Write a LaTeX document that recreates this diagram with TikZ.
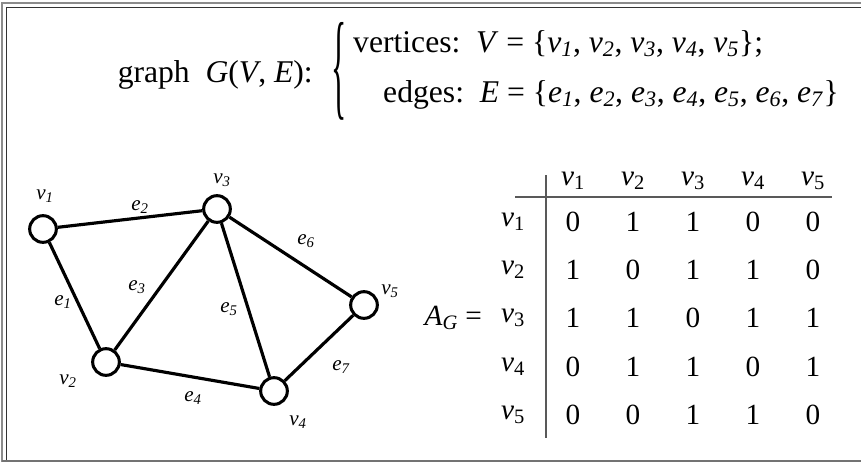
\documentclass[tikz,border=0pt]{standalone}
\usepackage{fontspec}
\setmainfont{Liberation Serif}
\usetikzlibrary{positioning}

\tikzset{
  vtx/.style={circle,draw,line width=2.6pt,minimum size=0.8cm,inner sep=0pt},
  edg/.style={line width=2.7pt},
  lbl/.style={font=\fontsize{18}{18}\selectfont\itshape},
  ent/.style={font=\fontsize{25}{25}\selectfont},
  head/.style={font=\fontsize{27}{27}\selectfont},
  rule/.style={draw=black!65,line width=1.3pt},
}
% italic v_i with upright index (matrix), italic index (headline)
\newcommand{\mv}[1]{\textit{v}\textsubscript{#1}}
\newcommand{\hv}[2]{\textit{#1}\textsubscript{\textit{#2}}}

\begin{document}
\begin{tikzpicture}[x=0.03cm,y=-0.03cm]
  \useasboundingbox (0,0) rectangle (861,464);
  % frame
  \draw[black!45,line width=2pt] (2,462) -- (2,3) -- (861,3);
  \draw[black!80,line width=0.8pt] (6,461) -- (6,7) -- (861,7);
  \draw[black!55,line width=2pt] (2,461) -- (861,461);

  % headline
  \node[head,anchor=base east,inner sep=0pt] (title) at (313,82) {graph\ \ \textit{G}(\textit{V}, \textit{E}):};
  \node[inner sep=0pt] (brace) at (339,71) {\resizebox{13pt}{70pt}{\fontsize{27}{27}\selectfont\{}};
  \node[head,anchor=base west,inner sep=0pt] (vline) at (353,52)
    {vertices:\ \ \textit{V} = \{\hv{v}{1}, \hv{v}{2}, \hv{v}{3}, \hv{v}{4}, \hv{v}{5}\};};
  \node[head,anchor=base west,inner sep=0pt] (eline) at (383,102)
    {edges:\ \ \textit{E} = \{\hv{e}{1}, \hv{e}{2}, \hv{e}{3}, \hv{e}{4}, \hv{e}{5}, \hv{e}{6}, \hv{e}{7}\}};

  % graph
  \node[vtx] (v1) at (43,229) {};
  \node[vtx] (v2) at (106,362) {};
  \node[vtx] (v3) at (217,209) {};
  \node[vtx] (v4) at (274,391) {};
  \node[vtx] (v5) at (364,305) {};
  \draw[edg] (v1) -- (v2);
  \draw[edg] (v1) -- (v3);
  \draw[edg] (v2) -- (v3);
  \draw[edg] (v2) -- (v4);
  \draw[edg] (v3) -- (v4);
  \draw[edg] (v3) -- (v5);
  \draw[edg] (v4) -- (v5);
  \node[lbl] (l1) at (45,196) {v\textsubscript{1}};
  \node[lbl] (l2) at (68,381) {v\textsubscript{2}};
  \node[lbl] (l3) at (222,180) {v\textsubscript{3}};
  \node[lbl] (l4) at (298,422) {v\textsubscript{4}};
  \node[lbl] (l5) at (390,291) {v\textsubscript{5}};
  \node[lbl] (k1) at (63,302) {e\textsubscript{1}};
  \node[lbl] (k2) at (140,207) {e\textsubscript{2}};
  \node[lbl] (k3) at (137,287) {e\textsubscript{3}};
  \node[lbl] (k4) at (193,398) {e\textsubscript{4}};
  \node[lbl] (k5) at (229,309) {e\textsubscript{5}};
  \node[lbl] (k6) at (306,241) {e\textsubscript{6}};
  \node[lbl] (k7) at (341,367) {e\textsubscript{7}};

  % adjacency matrix
  \node[ent,anchor=east,inner sep=0pt] (ag) at (482,318) {\textit{A}\textsubscript{\textit{G}}\ =};
  \foreach \j/\x in {1/573,2/633,3/693,4/753,5/813}
    \node[ent] (c\j) at (\x,181) {\mv{\j}};
  \foreach \i/\y in {1/222,2/270,3/318,4/367,5/415}
    \node[ent] (r\i) at (513,\y) {\mv{\i}};
  \foreach \row [count=\i] in {{0,1,1,0,0},{1,0,1,1,0},{1,1,0,1,1},{0,1,1,0,1},{0,0,1,1,0}}
    \foreach \val [count=\j] in \row
      \node[ent] (a\i\j) at (c\j |- r\i) {\val};
  \coordinate (vt) at (546,175);
  \coordinate (vb) at (546,438);
  \coordinate (hl) at (515,197);
  \coordinate (hr) at (832,197);
  \draw[rule] (vt) -- (vb);
  \draw[rule] (hl) -- (hr);
\end{tikzpicture}
\end{document}
